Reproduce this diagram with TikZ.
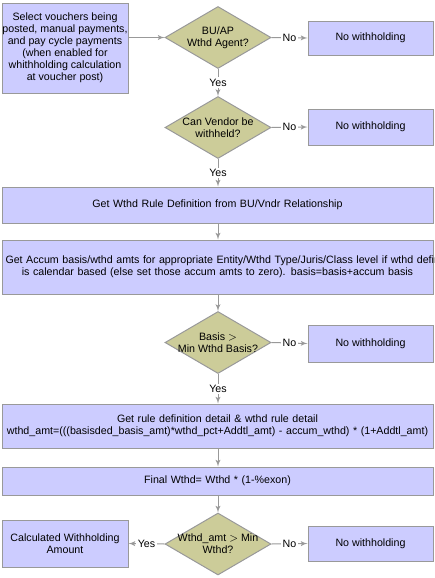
\documentclass[tikz,border=0pt]{standalone}
\usepackage{fontspec}
\setmainfont{Liberation Sans}
\usepackage{tikz}
\usetikzlibrary{arrows}
\usetikzlibrary{shapes.geometric}

\definecolor{boxblue}{HTML}{CCCCFF}
\definecolor{tanfill}{HTML}{CCCC99}
\definecolor{linegray}{HTML}{999999}
\newcommand{\flowfont}{\fontsize{8}{9}\selectfont}

\begin{document}
\begin{tikzpicture}[x=0.75pt,y=-0.75pt]

	\tikzset{stepbox/.style = {shape=rectangle,draw=linegray,fill=boxblue,line width=0.75pt,inner sep=0pt,align=center,font=\flowfont}}
	\tikzset{widebox/.style = {stepbox,minimum width=323.25pt,text width=318pt}}
	\tikzset{sidebox/.style = {stepbox,minimum width=93.75pt}}
	\tikzset{decision/.style = {shape=diamond,draw=linegray,fill=tanfill,line width=0.75pt,inner sep=0pt,minimum width=79.5pt,minimum height=46.5pt}}
	\tikzset{asked/.style = {align=center,font=\flowfont}}
	\tikzset{edge/.style = {->,> = latex',color=linegray,line width=0.75pt}}
	\tikzset{choice/.style = {fill=white,text=black,inner sep=1pt,font=\flowfont}}
	\useasboundingbox (0,0) rectangle (435,578);
	% steps
	\node[stepbox,minimum width=94.5pt,minimum height=67.5pt] (select) at (65,48) {Select vouchers being\\posted, manual payments,\\and pay cycle payments\\(when enabled for\\whithholding calculation\\at voucher post)};
	\node[widebox,minimum height=27pt] (rule) at (217.5,205) {Get Wthd Rule Definition from BU/Vndr Relationship};
	\node[widebox,minimum height=40.5pt] (accum) at (217.5,267) {\mbox{Get Accum basis/wthd amts for appropriate Entity/Wthd Type/Juris/Class level if wthd defini}\\\mbox{is calendar based (else set those accum amts to zero). basis=basis+accum basis}};
	\node[widebox,minimum height=33pt] (detail) at (217.5,426) {Get rule definition detail \& wthd rule detail\\\mbox{wthd\_amt=(((basisded\_basis\_amt)*wthd\_pct+Addtl\_amt) - accum\_wthd) * (1+Addtl\_amt)}};
	\node[widebox,minimum height=21pt] (final) at (217.5,481) {Final Wthd= Wthd * (1-\%exon)};
	\node[stepbox,minimum width=94.5pt,minimum height=35.25pt] (calc) at (65,543.5) {Calculated Withholding\\Amount};
	% decisions
	\node[decision,label={[asked]center:{BU/AP\\Wthd Agent?}}] (agent) at (218,37.5) {};
	\node[decision,label={[asked]center:{Can Vendor be\\withheld?}}] (vendor) at (218,127.5) {};
	\node[decision,label={[asked]center:{Basis $>$\\Min Wthd Basis?}}] (basis) at (218,342.5) {};
	\node[decision,label={[asked]center:{Wthd\_amt $>$ Min\\Wthd?}}] (amount) at (218,544) {};
	% no withholding
	\node[sidebox,minimum height=25.5pt] (none1) at (370.5,38) {No withholding};
	\node[sidebox,minimum height=27pt] (none2) at (370.5,127) {No withholding};
	\node[sidebox,minimum height=27.75pt] (none3) at (370.5,343.5) {No withholding};
	\node[sidebox,minimum height=26.25pt] (none4) at (370.5,543.5) {No withholding};
	% edges
	\draw[edge] (select.east |- agent.west) to (agent.west);
	\draw[edge] (agent.east) to node[choice] {No} (none1.west);
	\draw[edge] (agent.south) to node[choice] {Yes} (vendor.north);
	\draw[edge] (vendor.east) to node[choice] {No} (none2.west);
	\draw[edge] (vendor.south) to node[choice] {Yes} (rule.north -| vendor.south);
	\draw[edge] (rule.south -| vendor.south) to (accum.north -| vendor.south);
	\draw[edge] (accum.south -| basis.north) to (basis.north);
	\draw[edge] (basis.east) to node[choice] {No} (none3.west);
	\draw[edge] (basis.south) to node[choice] {Yes} (detail.north -| basis.south);
	\draw[edge] (detail.south -| amount.north) to (final.north -| amount.north);
	\draw[edge] (final.south -| amount.north) to (amount.north);
	\draw[edge] (amount.west) to node[choice] {Yes} (calc.east);
	\draw[edge] (amount.east) to node[choice] {No} (none4.west);
\end{tikzpicture}
\end{document}
